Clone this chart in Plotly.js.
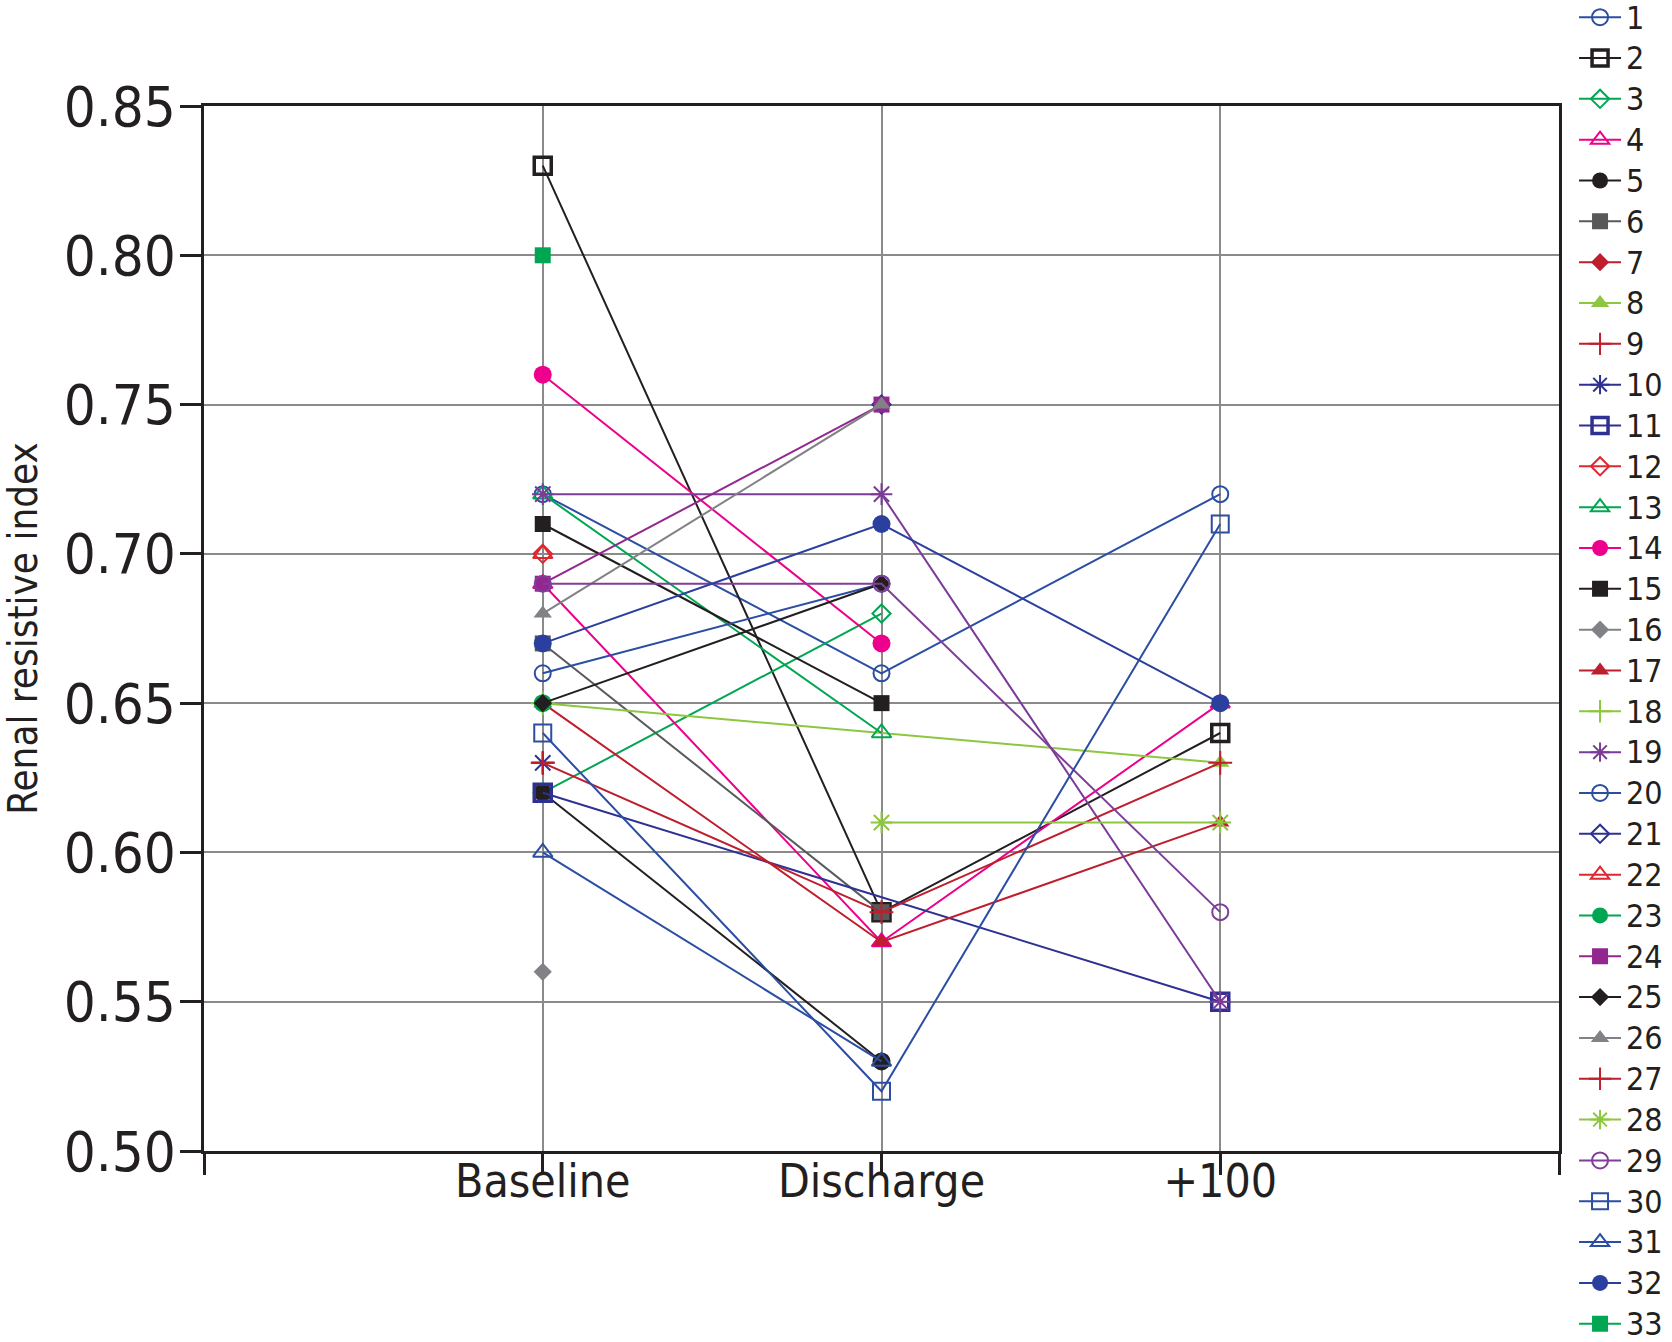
<!DOCTYPE html>
<html><head><meta charset="utf-8">
<script src="https://cdn.plot.ly/plotly-3.0.1.min.js"></script>
<style>html,body{margin:0;padding:0;background:#fff;overflow:hidden;} #chart{width:1672px;height:1342px;}</style>
</head><body><div id="chart"></div>
<script>
// ---- data ----
const categories = ['Baseline', 'Discharge', '+100'];
const patients = ['1','2','3','4','5','6','7','8','9','10','11','12','13','14','15','16','17','18','19','20','21','22','23','24','25','26','27','28','29','30','31','32','33'];
const baseline  = [0.72,0.83,0.62,0.69,0.62,0.67,0.65,0.65,0.63,0.63,0.62,0.70,0.72,0.76,0.71,0.56,0.65,0.65,0.72,0.66,null,0.70,0.65,0.69,0.65,0.68,0.63,null,0.69,0.64,0.60,0.67,0.80];
const discharge = [0.66,0.58,0.68,0.57,0.53,0.58,null,null,null,null,null,null,0.64,0.67,0.65,null,0.57,null,0.72,0.69,0.75,null,null,0.75,0.69,0.75,0.58,0.61,0.69,0.52,0.53,0.71,null];
const day100    = [0.72,0.64,null,0.65,null,null,null,0.63,null,null,0.55,null,null,null,null,null,0.61,null,0.55,null,null,null,null,null,null,null,0.63,0.61,0.58,0.71,null,0.65,null];
const yTicks = [0.50,0.55,0.60,0.65,0.70,0.75,0.80,0.85];

// ---- styles ----
const colors = ['#2b4ea2','#231f20','#00a651','#ec008c','#231f20','#58595b','#be1e2d','#8dc63f','#be1e2d','#2e3192','#2e3192','#e0262f','#00a651','#ec008c','#231f20','#808285','#be1e2d','#8dc63f','#7b3c98','#2b4ea2','#2e3192','#e0262f','#00a651','#92278f','#231f20','#808285','#be1e2d','#8dc63f','#7f3f98','#2b4ea2','#2b4ea2','#2b3f9e','#00a651'];
const symbols = ['circle-open','square-open','diamond-open','triangle-up-open','circle','square','diamond','triangle-up','cross-thin-open','asterisk-open','square-open','diamond-open','triangle-up-open','circle','square','diamond','triangle-up','cross-thin-open','asterisk-open','circle-open','diamond-open','triangle-up-open','circle','square','diamond','triangle-up','cross-thin-open','asterisk-open','circle-open','square-open','triangle-up-open','circle','square'];
const symSize = {'circle':18,'circle-open':16,'square':16,'square-open':17,'diamond':14,'diamond-open':14,'triangle-up':16,'triangle-up-open':17,'cross-thin-open':17,'asterisk-open':18};
const boldIdx = [1, 10];
const FONT = '"Liberation Sans Narrow", "DejaVu Sans Condensed", "Roboto Condensed", sans-serif';
const INK = '#231f20';

const xIdx = categories.map((c, i) => i);
const traces = patients.map((p, i) => {
  const sym = symbols[i];
  const open = sym.indexOf('-open') > 0;
  return {
    type: 'scatter',
    mode: 'lines+markers',
    connectgaps: true,
    x: xIdx,
    y: [baseline[i], discharge[i], day100[i]],
    name: '<span style="font-size:32px">' + p + '</span>',
    line: {color: colors[i], width: 2},
    marker: {
      symbol: sym,
      size: symSize[sym],
      color: colors[i],
      line: {color: colors[i], width: open ? (boldIdx.includes(i) ? 3.5 : 2) : 0}
    },
    hoverinfo: 'x+y'
  };
});

const axisCommon = {
  showline: true, linewidth: 3, linecolor: INK, mirror: true,
  ticks: 'outside', ticklen: 21, tickwidth: 3, tickcolor: INK,
  showgrid: true, gridcolor: '#8a8a8a', gridwidth: 2, zeroline: false
};

const layout = {
  width: 1672, height: 1342,
  margin: {l: 204, r: 113, t: 106, b: 191, autoexpand: false},
  paper_bgcolor: '#fff', plot_bgcolor: '#fff',
  font: {family: FONT, color: INK},
  showlegend: true,
  legend: {
    xref: 'paper', x: 1.0111, xanchor: 'left',
    yref: 'paper', y: 1.1093, yanchor: 'top',
    font: {family: FONT, size: 29.1, color: INK},
    itemwidth: 42, maxheight: 1500,
    bgcolor: 'rgba(0,0,0,0)', borderwidth: 0, tracegroupgap: 0
  },
  xaxis: Object.assign({}, axisCommon, {
    range: [-1, 3], tickmode: 'array',
    tickvals: [-1, 0, 1, 2, 3],
    ticktext: [''].concat(categories, ['']),
    tickfont: {family: FONT, size: 46, color: INK},
    ticklabelstandoff: -33,
    fixedrange: true
  }),
  yaxis: Object.assign({}, axisCommon, {
    range: [0.50, 0.85], tickmode: 'array', tickvals: yTicks,
    tickformat: '.2f',
    tickfont: {family: FONT, size: 56, color: INK},
    ticklabelstandoff: -7,
    title: {text: 'Renal resistive index', font: {family: FONT, size: 40, color: INK}, standoff: 45},
    fixedrange: true
  })
};

Plotly.newPlot('chart', traces, layout, {displayModeBar: false, staticPlot: true});
</script>
</body></html>
